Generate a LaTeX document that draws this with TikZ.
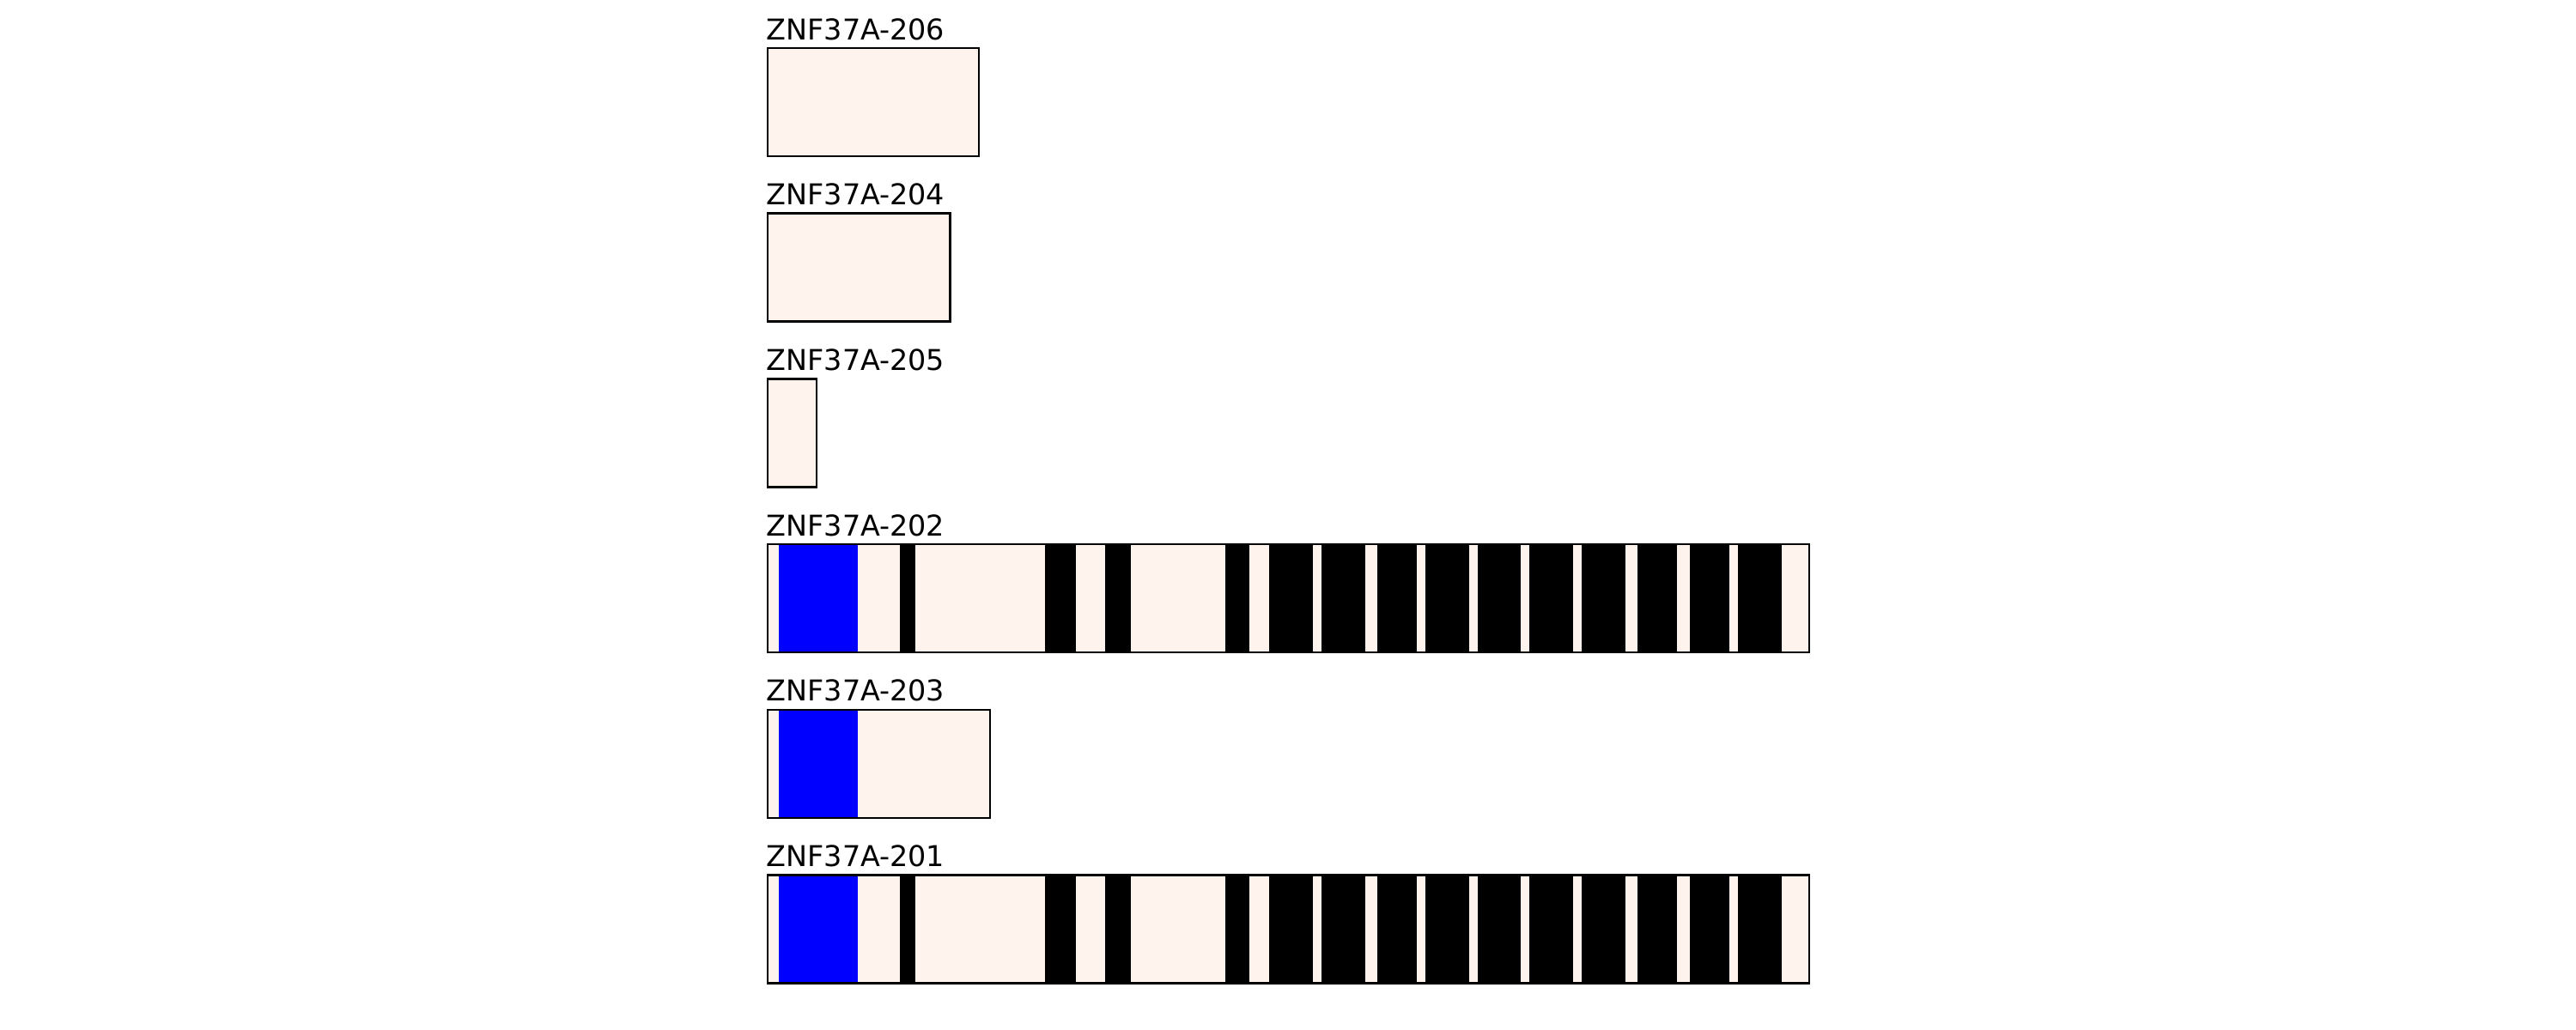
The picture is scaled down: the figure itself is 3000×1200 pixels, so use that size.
\documentclass[tikz,border=0pt]{standalone}
\usepackage{fontspec}
\setmainfont{DejaVu Sans}
\definecolor{pale}{RGB}{255,243,238}
\begin{document}
\begin{tikzpicture}[x=0.01cm,y=-0.01cm,
  txbox/.style={draw=black, line width=0.7pt, fill=pale},
  cdsbox/.style={fill=blue},
  exonbox/.style={fill=black},
  outline/.style={draw=black, line width=0.7pt},
  lbl/.style={anchor=base west, inner sep=0pt, font=\fontsize{9.5}{11}\selectfont}]
\useasboundingbox (0,0) rectangle (3000,1200);
% rows: index / name / right end / blue / exons
\foreach \i/\nm/\r/\bl/\ex in {
  0/206/1139.8/0/0,
  1/204/1106.5/0/0,
  2/205/951/0/0,
  3/202/2107/1/1,
  4/203/1152.8/1/0,
  5/201/2107/1/1}{
  \pgfmathsetmacro{\t}{56+192.7*\i}
  \pgfmathsetmacro{\b}{\t+126}
  \pgfmathsetmacro{\ly}{\t-10}
  \node[lbl] (lab\nm) at (892,\ly) {ZNF37A-\nm};
  \path[txbox] (894,\t) rectangle (\r,\b);
  \ifnum\bl=1
    \path[cdsbox] (906.7,\t) rectangle (999,\b);
  \fi
  \ifnum\ex=1
    \foreach \xa/\xb in {1048.3/1065.7, 1217.3/1253.3, 1286.5/1316.7,
      1426.7/1454.7, 1478.3/1529, 1539.3/1590, 1604/1650, 1660.3/1710.7,
      1721.3/1770.7, 1781.3/1831.7, 1842.3/1892.7, 1907.3/1952.7,
      1968.3/2014, 2024.3/2074.7}{
      \path[exonbox] (\xa,\t) rectangle (\xb,\b);
    }
  \fi
  \path[outline] (894,\t) rectangle (\r,\b);
}
\end{tikzpicture}
\end{document}
